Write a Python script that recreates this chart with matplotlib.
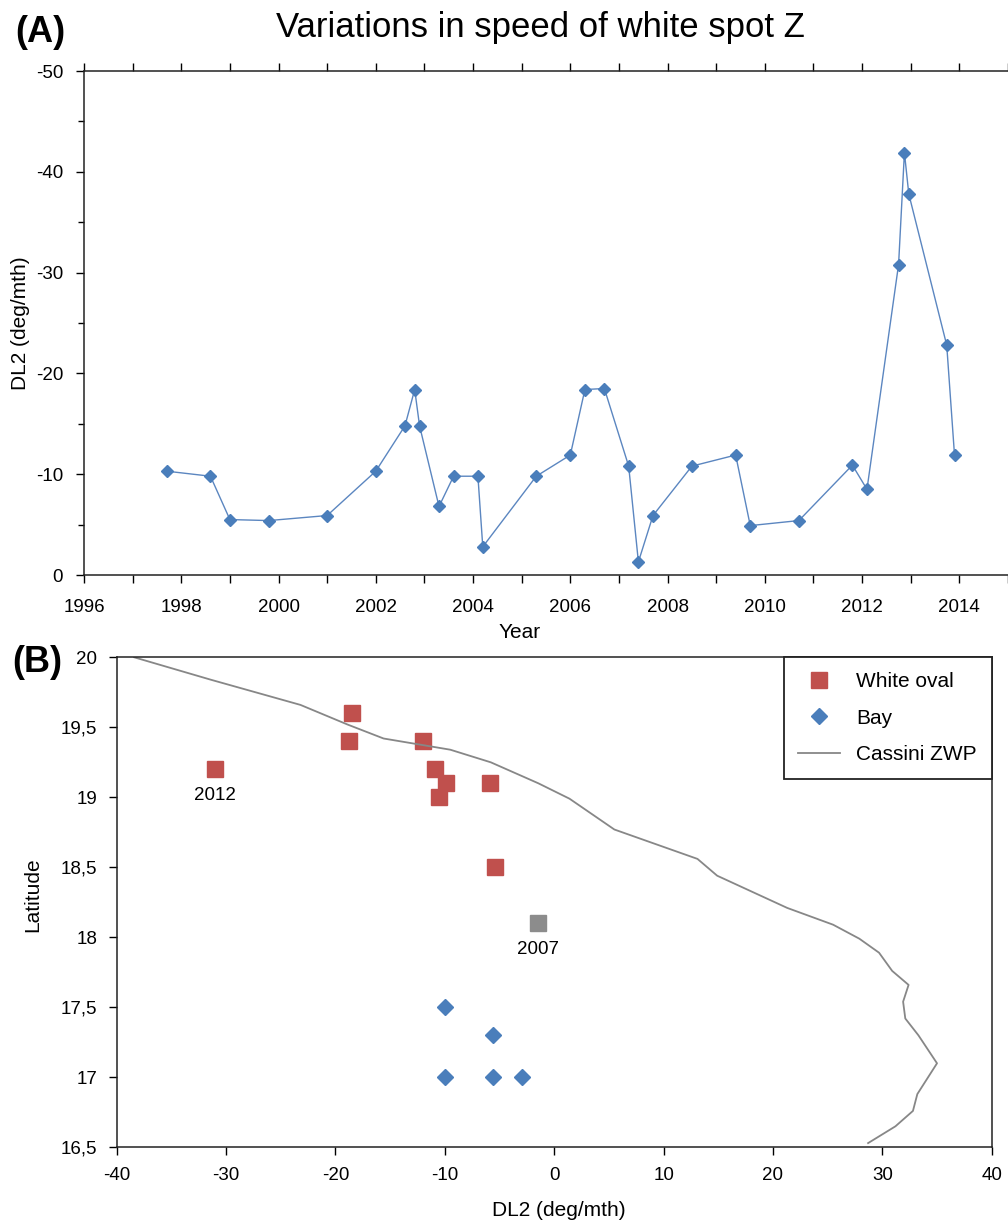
import matplotlib
matplotlib.use("Agg")
import matplotlib.pyplot as plt
from matplotlib.ticker import MultipleLocator, FuncFormatter

plt.rcParams['font.family'] = ['Liberation Sans', 'DejaVu Sans']
plt.rcParams['axes.unicode_minus'] = False

# panel A: speed of white spot Z over time
years = [1997.7, 1998.6, 1999.0, 1999.8, 2001.0, 2002.0, 2002.6, 2002.8, 2002.9,
         2003.3, 2003.6, 2004.1, 2004.2, 2005.3, 2006.0, 2006.3, 2006.7, 2007.2,
         2007.4, 2007.7, 2008.5, 2009.4, 2009.7, 2010.7, 2011.8, 2012.1, 2012.75,
         2012.87, 2012.96, 2013.74, 2013.9]
speed = [-10.3, -9.8, -5.5, -5.4, -5.9, -10.3, -14.8, -18.4, -14.8,
         -6.8, -9.8, -9.8, -2.8, -9.8, -11.9, -18.4, -18.5, -10.8,
         -1.3, -5.9, -10.8, -11.9, -4.9, -5.4, -10.9, -8.5, -30.8,
         -41.9, -37.8, -22.8, -11.9]

# panel B: latitude vs DL2
oval_dl2 = [-31.0, -18.5, -18.8, -12.0, -10.9, -9.9, -10.5, -5.9, -5.4]
oval_lat = [19.2, 19.6, 19.4, 19.4, 19.2, 19.1, 19.0, 19.1, 18.5]
oval07_dl2 = [-1.5]
oval07_lat = [18.1]
bay_dl2 = [-10.0, -5.6, -10.0, -5.6, -2.9]
bay_lat = [17.5, 17.3, 17.0, 17.0, 17.0]
zwp_dl2 = [-38.4, -31.4, -23.2, -18.9, -15.6, -9.5, -5.8, -1.45, 1.4, 5.5,
           13.1, 14.9, 21.3, 25.5, 27.9, 29.7, 30.9, 32.4, 31.9, 32.1, 33.3,
           35.0, 33.2, 32.8, 31.2, 28.7]
zwp_lat = [20.0, 19.84, 19.66, 19.52, 19.42, 19.34, 19.25, 19.10, 18.99, 18.77,
           18.56, 18.44, 18.21, 18.09, 17.99, 17.89, 17.76, 17.66, 17.54, 17.42,
           17.30, 17.10, 16.88, 16.76, 16.65, 16.53]

W, H = 1008, 1226
fig = plt.figure(figsize=(W / 100, H / 100), dpi=100)


def box(l, t, r, b):
    # pixel box -> figure fraction rect
    return [l / W, 1 - b / H, (r - l) / W, (b - t) / H]


blue = '#4A7EBB'
red = '#C0504D'
grey = '#8C8C8C'

# ---- panel A
ax1 = fig.add_axes(box(84, 71, 1008, 575))
ax1.plot(years, speed, color='#5B86C0', lw=1.0, marker='D', ms=6,
         mfc=blue, mec=blue)
ax1.set_xlim(1996, 2015)
ax1.set_ylim(0, -50)
ax1.xaxis.set_major_locator(MultipleLocator(2))
ax1.xaxis.set_minor_locator(MultipleLocator(1))
ax1.yaxis.set_major_locator(MultipleLocator(10))
ax1.yaxis.set_minor_locator(MultipleLocator(5))
ax1.spines['right'].set_visible(False)
for s in ax1.spines.values():
    s.set_linewidth(1.1)
    s.set_color('#222222')
ax1.tick_params(axis='x', which='both', top=True, direction='out', length=6,
                width=1.0, labelsize=13.5, pad=11)
ax1.tick_params(axis='y', which='major', direction='out', length=6, width=1.0,
                labelsize=13.5, pad=9)
ax1.tick_params(axis='y', which='minor', direction='out', length=4, width=1.0)
ax1.yaxis.set_major_formatter(FuncFormatter(lambda v, p: '%d' % v))

fig.text(540 / W, 1 - 27 / H, 'Variations in speed of white spot Z',
         ha='center', va='center', fontsize=25)
fig.text(15 / W, 1 - 33 / H, '(A)', ha='left', va='center', fontsize=26,
         fontweight='bold')
fig.text(21 / W, 1 - 323 / H, 'DL2 (deg/mth)', rotation=90, ha='center',
         va='center', fontsize=15)
fig.text(520 / W, 1 - 633 / H, 'Year', ha='center', va='center', fontsize=15)

# ---- panel B
ax2 = fig.add_axes(box(116.7, 657.3, 991.7, 1147.3))
h_oval, = ax2.plot(oval_dl2, oval_lat, 's', ms=11, color=red, ls='none',
                   label='White oval')
ax2.plot(oval07_dl2, oval07_lat, 's', ms=11, color=grey, ls='none')
h_bay, = ax2.plot(bay_dl2, bay_lat, 'D', ms=8, color=blue, ls='none',
                  label='Bay')
h_zwp, = ax2.plot(zwp_dl2, zwp_lat, color='#878787', lw=1.3,
                  label='Cassini ZWP')

ax2.annotate('2012', (oval_dl2[0], oval_lat[0]), xytext=(0, -19),
             textcoords='offset points', ha='center', va='center',
             fontsize=13.5)
ax2.annotate('2007', (oval07_dl2[0], oval07_lat[0]), xytext=(0, -19),
             textcoords='offset points', ha='center', va='center',
             fontsize=13.5)

ax2.set_xlim(-40, 40)
ax2.set_ylim(16.5, 20)
ax2.xaxis.set_major_locator(MultipleLocator(10))
ax2.xaxis.set_major_formatter(FuncFormatter(lambda v, p: '%d' % v))
ax2.yaxis.set_major_locator(MultipleLocator(0.5))
ax2.yaxis.set_major_formatter(
    FuncFormatter(lambda v, p: ('%g' % v).replace('.', ',')))
for s in ax2.spines.values():
    s.set_linewidth(1.1)
    s.set_color('#222222')
ax2.tick_params(axis='both', direction='out', length=6, width=1.0,
                labelsize=13.5)
ax2.tick_params(axis='x', pad=8)
ax2.tick_params(axis='y', pad=8)

leg = ax2.legend(handles=[h_oval, h_bay, h_zwp], loc='upper right',
                 borderaxespad=0, fancybox=False, framealpha=1,
                 edgecolor='#222222', fontsize=15, labelspacing=0.85,
                 handlelength=2.0, handletextpad=0.8, borderpad=0.7)
leg.get_frame().set_linewidth(1.3)

fig.text(12 / W, 1 - 663 / H, '(B)', ha='left', va='center', fontsize=26,
         fontweight='bold')
fig.text(33 / W, 1 - 895 / H, 'Latitude', rotation=90, ha='center',
         va='center', fontsize=15)
fig.text(559 / W, 1 - 1210 / H, 'DL2 (deg/mth)', ha='center', va='center',
         fontsize=15)

fig.savefig('out.png', dpi=100)
